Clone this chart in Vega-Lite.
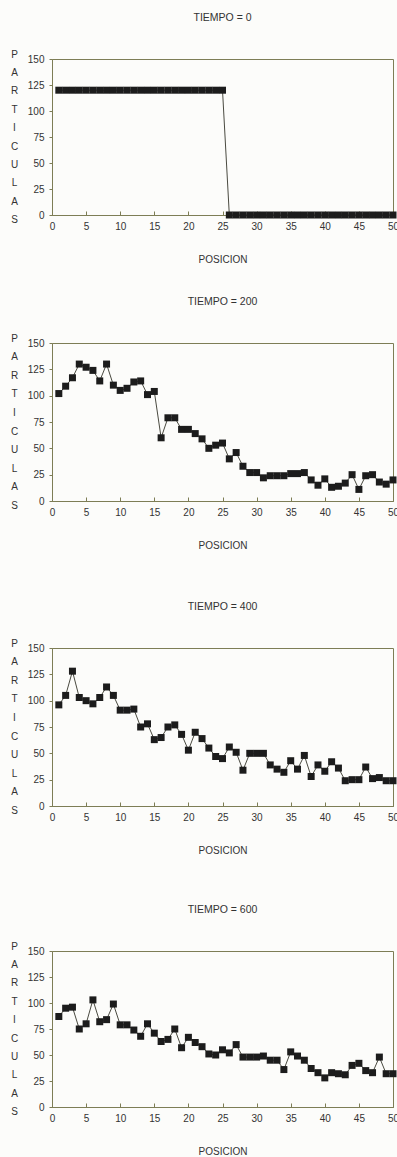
{
  "$schema": "https://vega.github.io/schema/vega-lite/v6.json",
  "background": "#fcfcfa",
  "padding": {"left": 9, "top": 12, "right": 2, "bottom": 0},
  "data": {"values": [
    {"t":0,"x":1,"n":120},{"t":0,"x":2,"n":120},{"t":0,"x":3,"n":120},{"t":0,"x":4,"n":120},{"t":0,"x":5,"n":120},
    {"t":0,"x":6,"n":120},{"t":0,"x":7,"n":120},{"t":0,"x":8,"n":120},{"t":0,"x":9,"n":120},{"t":0,"x":10,"n":120},
    {"t":0,"x":11,"n":120},{"t":0,"x":12,"n":120},{"t":0,"x":13,"n":120},{"t":0,"x":14,"n":120},{"t":0,"x":15,"n":120},
    {"t":0,"x":16,"n":120},{"t":0,"x":17,"n":120},{"t":0,"x":18,"n":120},{"t":0,"x":19,"n":120},{"t":0,"x":20,"n":120},
    {"t":0,"x":21,"n":120},{"t":0,"x":22,"n":120},{"t":0,"x":23,"n":120},{"t":0,"x":24,"n":120},{"t":0,"x":25,"n":120},
    {"t":0,"x":26,"n":0},{"t":0,"x":27,"n":0},{"t":0,"x":28,"n":0},{"t":0,"x":29,"n":0},{"t":0,"x":30,"n":0},
    {"t":0,"x":31,"n":0},{"t":0,"x":32,"n":0},{"t":0,"x":33,"n":0},{"t":0,"x":34,"n":0},{"t":0,"x":35,"n":0},
    {"t":0,"x":36,"n":0},{"t":0,"x":37,"n":0},{"t":0,"x":38,"n":0},{"t":0,"x":39,"n":0},{"t":0,"x":40,"n":0},
    {"t":0,"x":41,"n":0},{"t":0,"x":42,"n":0},{"t":0,"x":43,"n":0},{"t":0,"x":44,"n":0},{"t":0,"x":45,"n":0},
    {"t":0,"x":46,"n":0},{"t":0,"x":47,"n":0},{"t":0,"x":48,"n":0},{"t":0,"x":49,"n":0},{"t":0,"x":50,"n":0},

    {"t":200,"x":1,"n":102},{"t":200,"x":2,"n":109},{"t":200,"x":3,"n":117},{"t":200,"x":4,"n":130},{"t":200,"x":5,"n":127},
    {"t":200,"x":6,"n":124},{"t":200,"x":7,"n":114},{"t":200,"x":8,"n":130},{"t":200,"x":9,"n":110},{"t":200,"x":10,"n":105},
    {"t":200,"x":11,"n":107},{"t":200,"x":12,"n":113},{"t":200,"x":13,"n":114},{"t":200,"x":14,"n":101},{"t":200,"x":15,"n":104},
    {"t":200,"x":16,"n":60},{"t":200,"x":17,"n":79},{"t":200,"x":18,"n":79},{"t":200,"x":19,"n":68},{"t":200,"x":20,"n":68},
    {"t":200,"x":21,"n":64},{"t":200,"x":22,"n":59},{"t":200,"x":23,"n":50},{"t":200,"x":24,"n":53},{"t":200,"x":25,"n":55},
    {"t":200,"x":26,"n":40},{"t":200,"x":27,"n":46},{"t":200,"x":28,"n":33},{"t":200,"x":29,"n":27},{"t":200,"x":30,"n":27},
    {"t":200,"x":31,"n":22},{"t":200,"x":32,"n":24},{"t":200,"x":33,"n":24},{"t":200,"x":34,"n":24},{"t":200,"x":35,"n":26},
    {"t":200,"x":36,"n":26},{"t":200,"x":37,"n":27},{"t":200,"x":38,"n":20},{"t":200,"x":39,"n":15},{"t":200,"x":40,"n":21},
    {"t":200,"x":41,"n":13},{"t":200,"x":42,"n":14},{"t":200,"x":43,"n":17},{"t":200,"x":44,"n":25},{"t":200,"x":45,"n":11},
    {"t":200,"x":46,"n":24},{"t":200,"x":47,"n":25},{"t":200,"x":48,"n":18},{"t":200,"x":49,"n":16},{"t":200,"x":50,"n":20},

    {"t":400,"x":1,"n":96},{"t":400,"x":2,"n":105},{"t":400,"x":3,"n":128},{"t":400,"x":4,"n":103},{"t":400,"x":5,"n":100},
    {"t":400,"x":6,"n":97},{"t":400,"x":7,"n":103},{"t":400,"x":8,"n":113},{"t":400,"x":9,"n":105},{"t":400,"x":10,"n":91},
    {"t":400,"x":11,"n":91},{"t":400,"x":12,"n":92},{"t":400,"x":13,"n":75},{"t":400,"x":14,"n":78},{"t":400,"x":15,"n":63},
    {"t":400,"x":16,"n":65},{"t":400,"x":17,"n":75},{"t":400,"x":18,"n":77},{"t":400,"x":19,"n":68},{"t":400,"x":20,"n":53},
    {"t":400,"x":21,"n":70},{"t":400,"x":22,"n":64},{"t":400,"x":23,"n":55},{"t":400,"x":24,"n":47},{"t":400,"x":25,"n":45},
    {"t":400,"x":26,"n":56},{"t":400,"x":27,"n":51},{"t":400,"x":28,"n":34},{"t":400,"x":29,"n":50},{"t":400,"x":30,"n":50},
    {"t":400,"x":31,"n":50},{"t":400,"x":32,"n":39},{"t":400,"x":33,"n":35},{"t":400,"x":34,"n":32},{"t":400,"x":35,"n":43},
    {"t":400,"x":36,"n":35},{"t":400,"x":37,"n":48},{"t":400,"x":38,"n":28},{"t":400,"x":39,"n":39},{"t":400,"x":40,"n":33},
    {"t":400,"x":41,"n":42},{"t":400,"x":42,"n":36},{"t":400,"x":43,"n":24},{"t":400,"x":44,"n":25},{"t":400,"x":45,"n":25},
    {"t":400,"x":46,"n":37},{"t":400,"x":47,"n":26},{"t":400,"x":48,"n":27},{"t":400,"x":49,"n":24},{"t":400,"x":50,"n":24},

    {"t":600,"x":1,"n":87},{"t":600,"x":2,"n":95},{"t":600,"x":3,"n":96},{"t":600,"x":4,"n":75},{"t":600,"x":5,"n":80},
    {"t":600,"x":6,"n":103},{"t":600,"x":7,"n":82},{"t":600,"x":8,"n":84},{"t":600,"x":9,"n":99},{"t":600,"x":10,"n":79},
    {"t":600,"x":11,"n":79},{"t":600,"x":12,"n":74},{"t":600,"x":13,"n":68},{"t":600,"x":14,"n":80},{"t":600,"x":15,"n":71},
    {"t":600,"x":16,"n":63},{"t":600,"x":17,"n":65},{"t":600,"x":18,"n":75},{"t":600,"x":19,"n":57},{"t":600,"x":20,"n":67},
    {"t":600,"x":21,"n":62},{"t":600,"x":22,"n":58},{"t":600,"x":23,"n":51},{"t":600,"x":24,"n":50},{"t":600,"x":25,"n":55},
    {"t":600,"x":26,"n":52},{"t":600,"x":27,"n":60},{"t":600,"x":28,"n":48},{"t":600,"x":29,"n":48},{"t":600,"x":30,"n":48},
    {"t":600,"x":31,"n":49},{"t":600,"x":32,"n":45},{"t":600,"x":33,"n":45},{"t":600,"x":34,"n":36},{"t":600,"x":35,"n":53},
    {"t":600,"x":36,"n":49},{"t":600,"x":37,"n":45},{"t":600,"x":38,"n":37},{"t":600,"x":39,"n":33},{"t":600,"x":40,"n":28},
    {"t":600,"x":41,"n":33},{"t":600,"x":42,"n":32},{"t":600,"x":43,"n":31},{"t":600,"x":44,"n":40},{"t":600,"x":45,"n":42},
    {"t":600,"x":46,"n":35},{"t":600,"x":47,"n":33},{"t":600,"x":48,"n":48},{"t":600,"x":49,"n":32},{"t":600,"x":50,"n":32}
  ]},
  "config": {
    "font": "Liberation Sans Narrow, Liberation Sans, sans-serif",
    "view": {"stroke": "#7d7d55", "strokeWidth": 1},
    "axis": {
      "grid": false,
      "domainColor": "#7d7d55",
      "tickColor": "#7d7d55",
      "labelColor": "#333333",
      "titleColor": "#333333",
      "labelFontSize": 10,
      "titleFontSize": 10,
      "titleFontWeight": "normal"
    },
    "title": {"fontSize": 10.5, "fontWeight": "normal", "color": "#333333", "frame": "group", "anchor": "middle", "offset": 26},
    "line": {"color": "#4a4a40", "strokeWidth": 1},
    "point": {"shape": "square", "filled": true, "size": 49, "color": "#1c1c1c", "opacity": 1}
  },
  "spacing": 31,
  "vconcat": [
    {
      "title": "TIEMPO = 0",
      "width": 341, "height": 156,
      "transform": [{"filter": "datum.t == 0"}],
      "encoding": {
        "x": {"field": "x", "type": "quantitative", "scale": {"domain": [0, 50], "nice": false},
              "axis": {"values": [0,5,10,15,20,25,30,35,40,45,50], "title": "POSICION", "tickSize": -4, "labelPadding": 10, "titlePadding": 23, "labelFlush": false}},
        "y": {"field": "n", "type": "quantitative", "scale": {"domain": [0, 150], "nice": false},
              "axis": {"values": [0,25,50,75,100,125,150], "title": ["P","A","R","T","I","C","U","L","A","S"], "titleAngle": 0, "titleAlign": "center", "titleBaseline": "top", "titleX": -38, "titleY": -10, "titleLineHeight": 18.4, "tickSize": 3, "labelPadding": 5}}
      },
      "layer": [{"mark": "line"}, {"mark": "point"}]
    },
    {
      "spacing": 50,
      "vconcat": [
        {
          "title": "TIEMPO = 200",
          "width": 341, "height": 158,
          "transform": [{"filter": "datum.t == 200"}],
          "encoding": {
            "x": {"field": "x", "type": "quantitative", "scale": {"domain": [0, 50], "nice": false},
                  "axis": {"values": [0,5,10,15,20,25,30,35,40,45,50], "title": "POSICION", "tickSize": -4, "labelPadding": 10, "titlePadding": 23, "labelFlush": false}},
            "y": {"field": "n", "type": "quantitative", "scale": {"domain": [0, 150], "nice": false},
                  "axis": {"values": [0,25,50,75,100,125,150], "title": ["P","A","R","T","I","C","U","L","A","S"], "titleAngle": 0, "titleAlign": "center", "titleBaseline": "top", "titleX": -38, "titleY": -10, "titleLineHeight": 18.6, "tickSize": 3, "labelPadding": 5}}
          },
          "layer": [{"mark": "line"}, {"mark": "point"}]
        },
        {
          "spacing": 48,
          "vconcat": [
            {
              "title": "TIEMPO = 400",
              "width": 341, "height": 158,
              "transform": [{"filter": "datum.t == 400"}],
              "encoding": {
                "x": {"field": "x", "type": "quantitative", "scale": {"domain": [0, 50], "nice": false},
                      "axis": {"values": [0,5,10,15,20,25,30,35,40,45,50], "title": "POSICION", "tickSize": -4, "labelPadding": 10, "titlePadding": 23, "labelFlush": false}},
                "y": {"field": "n", "type": "quantitative", "scale": {"domain": [0, 150], "nice": false},
                      "axis": {"values": [0,25,50,75,100,125,150], "title": ["P","A","R","T","I","C","U","L","A","S"], "titleAngle": 0, "titleAlign": "center", "titleBaseline": "top", "titleX": -38, "titleY": -10, "titleLineHeight": 18.6, "tickSize": 3, "labelPadding": 5}}
              },
              "layer": [{"mark": "line"}, {"mark": "point"}]
            },
            {
              "title": "TIEMPO = 600",
              "width": 341, "height": 156,
              "transform": [{"filter": "datum.t == 600"}],
              "encoding": {
                "x": {"field": "x", "type": "quantitative", "scale": {"domain": [0, 50], "nice": false},
                      "axis": {"values": [0,5,10,15,20,25,30,35,40,45,50], "title": "POSICION", "tickSize": -4, "labelPadding": 10, "titlePadding": 23, "labelFlush": false}},
                "y": {"field": "n", "type": "quantitative", "scale": {"domain": [0, 150], "nice": false},
                      "axis": {"values": [0,25,50,75,100,125,150], "title": ["P","A","R","T","I","C","U","L","A","S"], "titleAngle": 0, "titleAlign": "center", "titleBaseline": "top", "titleX": -38, "titleY": -10, "titleLineHeight": 18.4, "tickSize": 3, "labelPadding": 5}}
              },
              "layer": [{"mark": "line"}, {"mark": "point"}]
            }
          ]
        }
      ]
    }
  ]
}
